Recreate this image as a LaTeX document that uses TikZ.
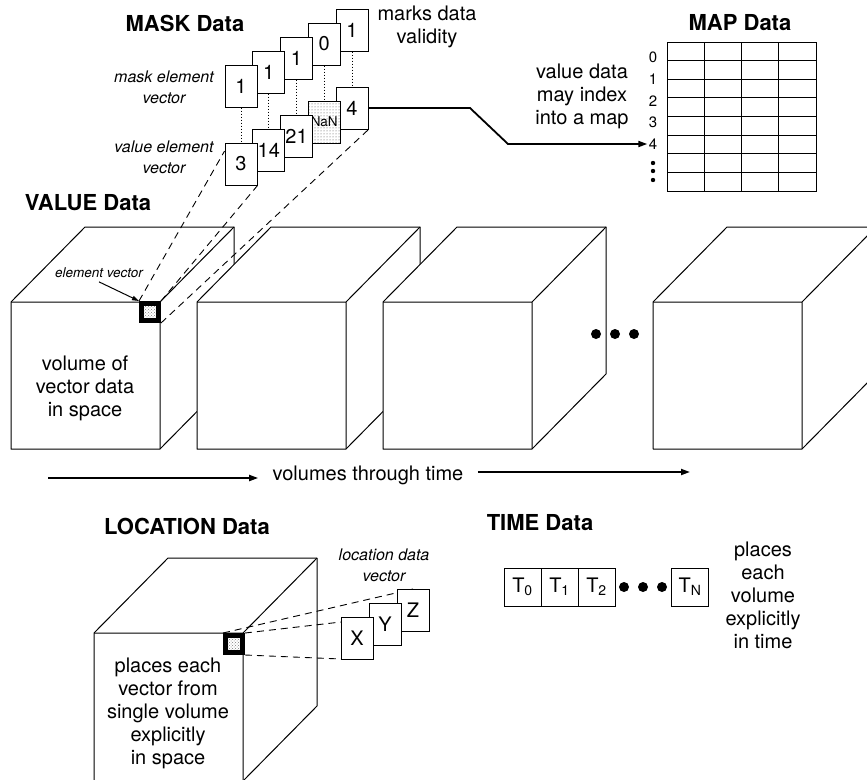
\documentclass[tikz,border=0pt]{standalone}
\usepackage{fontspec}
\setmainfont{TeX Gyre Heros}
\usetikzlibrary{arrows.meta,positioning,calc,patterns}
\tikzset{
  title/.style={font=\fontsize{22}{26}\selectfont\bfseries},
  body/.style={font=\fontsize{20}{23}\selectfont, align=center},
  note/.style={font=\fontsize{16}{21}\selectfont\itshape, align=center},
  cell/.style={draw, fill=white, line width=1pt, minimum width=32pt, minimum height=42pt, inner sep=0pt, font=\fontsize{20}{23}\selectfont},
  tcell/.style={draw, fill=white, line width=1pt, minimum width=37pt, minimum height=38pt, inner sep=0pt, outer sep=0pt, font=\fontsize{20}{23}\selectfont},
  elem/.style={draw, line width=5pt, minimum size=17pt, inner sep=0pt, preaction={fill=white}, pattern=crosshatch dots, pattern color=gray},
  cube/.style={fill=white, line width=1pt, line join=round},
  vlink/.style={dash pattern=on 7pt off 5pt, line width=0.9pt},
  rowlab/.style={font=\fontsize{15}{15}\selectfont, inner sep=1pt},
}
\newcommand\vol[3]{%
  \filldraw[cube] (#1,#2) -- ++(74,-75) -- ++(149,0) -- ++(0,#3) -- ++(-74,75) -- ++(-149,0) -- cycle;
  \draw[line width=1pt, line join=round] (#1,#2) -- ++(149,0) -- ++(74,-75) ++(-74,75) -- ++(0,#3);
}
\begin{document}
\begin{tikzpicture}[x=1pt, y=-1pt, >={Triangle[length=9pt,width=6pt]}, line width=1pt]
\useasboundingbox (0,0) rectangle (867,779);
\clip (0,0) rectangle (867,779);
\node[title] (mask) at (185,23) {MASK Data};
\node[title] (value) at (88,203) {VALUE Data};
\node[title] (map) at (740,23) {MAP Data};
\node[title] (location) at (187,526) {LOCATION Data};
\node[title] (time) at (540,523) {TIME Data};

\vol{11}{302}{147}
\vol{197}{302}{147}
\vol{383}{302}{147}
\vol{653}{302}{147}
\foreach \x in {596,615,634} \fill (\x,334) circle (5pt);
\node[body] (volnote) at (85,388) {volume of\\vector data\\in space};
\node[elem] (elem) at (150,312) {};
\node[note, font=\fontsize{13.5}{16}\selectfont\itshape] (elemlab) at (99,273) {element vector};
\draw[-{Triangle[length=7pt,width=4.5pt]}] (elemlab.south) -- (elem.north west);

\node[note] (masklab) at (164,87) {mask element\\vector};
\node[note] (valuelab) at (164,157) {value element\\vector};
\node[body] (masknote) at (427,27) {marks data\\validity};
\foreach \i/\m in {4/1,3/0,2/1,1/1,0/1}
  \node[cell] (m\i) at (241+27.75*\i,86-14*\i) {\m};
\node[cell] (v4) at (352,108) {4};
\node[cell, preaction={fill=white}, pattern=dots, pattern color=black!70, font=\fontsize{13.5}{14}\selectfont] (v3) at (324.25,122) {NaN};
\node[cell] (v2) at (296.5,136) {21};
\node[cell] (v1) at (268.75,150) {14};
\node[cell] (v0) at (241,164) {3};
\foreach \i in {0,...,4} \draw[dotted] (m\i) -- (v\i);
\draw[vlink] (elem.north west) -- ($(v0.north west)!0.2!(v0.south west)$);
\draw[vlink] (elem.north east) -- (v0.south east);
\draw[vlink] (elem.south east) -- (v4.south east);

\draw (667,42) rectangle (816,191);
\foreach \c in {1,2,3} \draw (667+37.25*\c,42) -- ++(0,149);
\foreach \r in {1,...,7} \draw (667,42+18.625*\r) -- ++(149,0);
\foreach \r/\y in {0/57,1/79,2/101,3/122,4/144} \node[rowlab] (r\r) at (653,\y) {\r};
\foreach \y in {163,171,180} \fill (653,\y) circle (2.2pt);
\node[body] (mapnote) at (582,96) {value data\\may index\\into a map};
\draw[->, line width=1.8pt] (v4.east) -- (470,108) -- (508,144) -- (r4.west);

\node[body, inner xsep=14pt] (through) at (368,475) {volumes through time};
\coordinate (tstart) at (48,478);
\coordinate (tend) at (690,472);
\draw[->, line width=1.8pt] (tstart) -- (through.west |- tstart);
\draw[->, line width=1.8pt] (through.east |- tend) -- (tend);

\vol{94}{633}{148}
\node[body] (locnote) at (168,713) {places each\\vector from\\single volume\\explicitly\\in space};
\node[elem] (locelem) at (234,644) {};
\node[note] (loclab) at (384,565) {location data\\vector};
\draw[vlink] (locelem.north west) -- (413,589);
\draw[vlink] (locelem.north east) -- (341,622);
\draw[vlink] (locelem.south east) -- (341,659);
\node[cell] (locz) at (413,610) {Z};
\node[cell] (locy) at (385,624) {Y};
\node[cell] (locx) at (357,638) {X};

\node[tcell] (t0) at (522.5,587) {T\textsubscript{0}};
\node[tcell, right=0pt of t0] (t1) {T\textsubscript{1}};
\node[tcell, right=0pt of t1] (t2) {T\textsubscript{2}};
\node[tcell] (tn) at (690,587) {T\textsubscript{N}};
\foreach \x in {624,643,662} \fill (\x,587) circle (5pt);
\node[body] (timenote) at (763,595) {places\\each\\volume\\explicitly\\in time};
\end{tikzpicture}
\end{document}
